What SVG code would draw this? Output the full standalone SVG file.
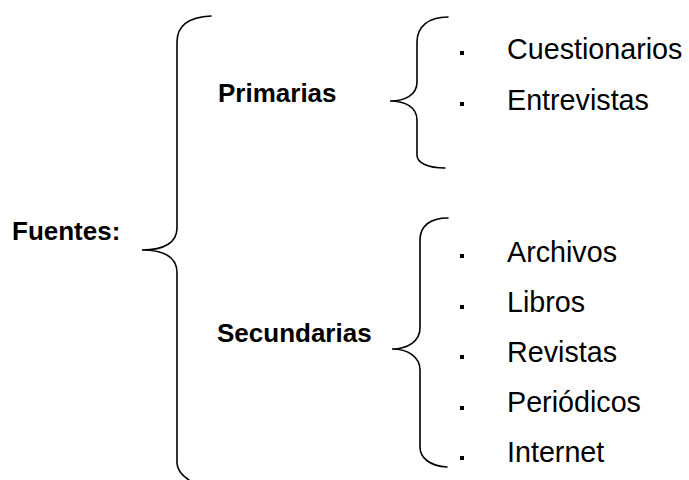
<svg xmlns="http://www.w3.org/2000/svg" width="689" height="480" viewBox="0 0 689 480">
<style>
.brace{fill:none;stroke:#000;stroke-width:1.6;stroke-linecap:round}
.lbl{font-family:"Liberation Sans",Arial,sans-serif;font-weight:bold;font-size:26px;fill:#000}
.item{font-family:"Liberation Sans",Arial,sans-serif;font-size:28.7px;fill:#000}
.bul{fill:#000}
</style>
<rect width="689" height="480" fill="#fff"/>
<g id="connectors">
<path class="brace" d="M211,16 C190,17 177,25 177,42 L177,228 C177,242 165,250 142,250 C165,250 177,258 177,273 L177,463 C177,470 182,476 192,482"/>
<path class="brace" d="M448,17 C428,17 417,27 417,42 L417,82 C417,95 405,101 390,101 C405,101 417,107 417,120 L417,155 C417,163 428,168 445,168"/>
<path class="brace" d="M448,218 C430,218 420,226 420,240 L420,328 C420,341 408,349 392,349 C408,349 420,357 420,370 L420,447 C420,458 430,466 447,467"/>
</g>
<g id="fuentes"><text class="lbl" x="12" y="240">Fuentes:</text></g>
<g id="primarias"><text class="lbl" x="218" y="102">Primarias</text></g>
<g id="secundarias"><text class="lbl" x="217" y="342">Secundarias</text></g>
<g id="cuestionarios"><rect class="bul" x="460" y="51" width="4" height="4"/><text class="item" x="507" y="59">Cuestionarios</text></g>
<g id="entrevistas"><rect class="bul" x="460" y="102" width="4" height="4"/><text class="item" x="507" y="110">Entrevistas</text></g>
<g id="archivos"><rect class="bul" x="460" y="254" width="4" height="4"/><text class="item" x="507" y="262">Archivos</text></g>
<g id="libros"><rect class="bul" x="460" y="305" width="4" height="4"/><text class="item" x="507" y="312">Libros</text></g>
<g id="revistas"><rect class="bul" x="460" y="355" width="4" height="4"/><text class="item" x="507" y="362">Revistas</text></g>
<g id="periodicos"><rect class="bul" x="460" y="406" width="4" height="4"/><text class="item" x="507" y="412">Periódicos</text></g>
<g id="internet"><rect class="bul" x="460" y="456" width="4" height="4"/><text class="item" x="507" y="462">Internet</text></g>
</svg>
